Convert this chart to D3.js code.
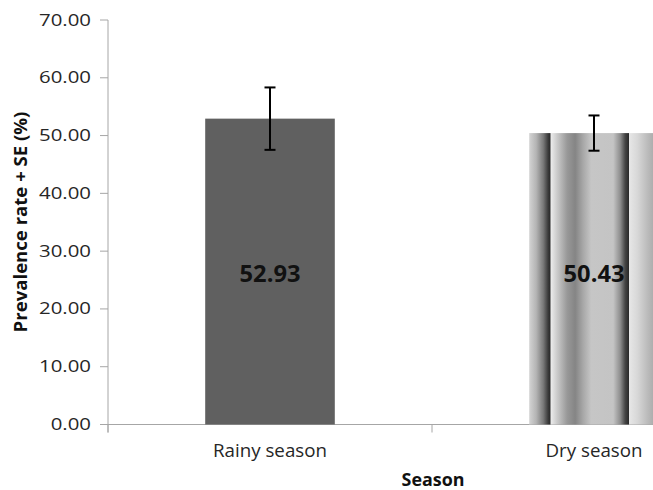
<!DOCTYPE html>
<html>
<head>
<meta charset="utf-8">
<script src="https://cdn.jsdelivr.net/npm/d3@7"></script>
<style>
html,body{margin:0;padding:0;background:#fff;overflow:hidden;}
svg{display:block;}
text{font-family:"Open Sans",sans-serif;fill:#222;}
</style>
</head>
<body>
<svg id="chart" width="653" height="490"></svg>
<script>
const categories = ["Rainy season", "Dry season"];
const values = [52.93, 50.43];
const errors = [5.4, 3.05];
const valueLabels = ["52.93", "50.43"];
const yTicks = [0, 10, 20, 30, 40, 50, 60, 70];
const yTitle = "Prevalence rate + SE (%)";
const xTitle = "Season";

const svg = d3.select("#chart");
const W = 653, H = 490;

const y = d3.scaleLinear().domain([0, 70]).range([424.5, 20]);
const x = d3.scaleBand().domain(categories).range([108, 756]).paddingInner(0.6).paddingOuter(0.3);
const step = x.step();
const x0 = 108;

// gradient for dry season bar
const defs = svg.append("defs");
const grad = defs.append("linearGradient").attr("id", "dryGrad")
  .attr("x1", 0).attr("x2", 1).attr("y1", 0).attr("y2", 0);
const bw = x.bandwidth();
const stops = [
  [0, "#d4d4d4"], [7, "#b4b4b4"], [14, "#7a7a7a"], [19, "#3a3a3a"], [21, "#2a2a2a"],
  [21.6, "#ececec"], [28, "#cacaca"], [38, "#989898"], [46, "#858585"], [54, "#a8a8a8"],
  [62, "#c6c6c6"], [84, "#c4c4c4"], [91, "#8e8e8e"], [96, "#444444"], [99.5, "#2a2a2a"],
  [100.2, "#e6e6e6"], [108, "#d8d8d8"], [118, "#bcbcbc"], [129.6, "#a0a0a0"]
];
stops.forEach(s => grad.append("stop").attr("offset", (s[0] / bw)).attr("stop-color", s[1]));

// helper: fit text horizontally
function fit(sel, target) {
  sel.each(function () {
    const t = d3.select(this);
    const w = this.getComputedTextLength();
    const tx = +t.attr("data-x"), ty = +t.attr("data-y");
    const rot = t.attr("data-rot") || 0;
    const s = target / w;
    t.attr("x", 0).attr("y", 0)
     .attr("transform", `translate(${tx},${ty}) rotate(${rot}) scale(${s},1)`);
  });
}

// axes lines
const axisColor = "#a6a6a6";
svg.append("line").attr("x1", x0).attr("x2", x0).attr("y1", y(70)).attr("y2", y(0) + 8)
  .attr("stroke", axisColor).attr("stroke-width", 1);
svg.append("line").attr("x1", x0).attr("x2", W + 5).attr("y1", y(0)).attr("y2", y(0))
  .attr("stroke", axisColor).attr("stroke-width", 1);

// y ticks
yTicks.forEach(v => {
  svg.append("line").attr("x1", x0 - 8).attr("x2", x0).attr("y1", y(v)).attr("y2", y(v))
    .attr("stroke", axisColor).attr("stroke-width", 1);
});
const tl = svg.selectAll(".ytl").data(yTicks).enter().append("text")
  .attr("class", "ytl")
  .attr("text-anchor", "end")
  .style("font-size", "15.5px").style("fill", "#262626")
  .text(d => d.toFixed(2));
let tickScale = 1.2;
tl.each(function (d) { if (d === 70) tickScale = 52 / this.getComputedTextLength(); });
tl.attr("x", 0).attr("y", 0)
  .attr("transform", d => `translate(91,${y(d) + 5.5}) scale(${tickScale},1)`);

// x category boundary ticks
[0, 1, 2].forEach(i => {
  const xx = x0 + i * step;
  svg.append("line").attr("x1", xx).attr("x2", xx).attr("y1", y(0)).attr("y2", y(0) + 8)
    .attr("stroke", axisColor).attr("stroke-width", 1);
});

// bars
svg.selectAll(".bar").data(categories).enter().append("rect")
  .attr("class", "bar")
  .attr("x", d => x(d))
  .attr("width", bw)
  .attr("y", (d, i) => y(values[i]))
  .attr("height", (d, i) => y(0) - y(values[i]))
  .attr("fill", (d, i) => i === 0 ? "#606060" : "url(#dryGrad)");

// error bars
categories.forEach((c, i) => {
  const cx = x(c) + bw / 2;
  const top = y(values[i] + errors[i]);
  const bot = y(values[i] - errors[i]);
  const g = svg.append("g").attr("stroke", "#000").attr("stroke-width", 2);
  g.append("line").attr("x1", cx).attr("x2", cx).attr("y1", top).attr("y2", bot);
  g.append("line").attr("x1", cx - 5.5).attr("x2", cx + 5.5).attr("y1", top).attr("y2", top);
  g.append("line").attr("x1", cx - 5.5).attr("x2", cx + 5.5).attr("y1", bot).attr("y2", bot);
});

// value labels
svg.selectAll(".vl").data(categories).enter().append("text")
  .attr("class", "vl")
  .attr("data-x", d => x(d) + bw / 2).attr("data-y", 282)
  .attr("text-anchor", "middle")
  .style("font-size", "23px").style("font-weight", "bold").style("fill", "#111")
  .text((d, i) => valueLabels[i])
  .call(fit, 61);

// category labels
const catW = [114, 97];
svg.selectAll(".cl").data(categories).enter().append("text")
  .attr("class", "cl")
  .attr("data-x", d => x(d) + bw / 2).attr("data-y", 457)
  .attr("text-anchor", "middle")
  .style("font-size", "17.5px").style("fill", "#262626")
  .text(d => d)
  .each(function (d, i) { fit(d3.select(this), catW[i]); });

// x title
svg.append("text")
  .attr("data-x", 433).attr("data-y", 486)
  .attr("text-anchor", "middle")
  .style("font-size", "17.5px").style("font-weight", "bold").style("fill", "#111")
  .text(xTitle)
  .call(fit, 63);

// y title
svg.append("text")
  .attr("data-x", 27).attr("data-y", 222).attr("data-rot", -90)
  .attr("text-anchor", "middle")
  .style("font-size", "17px").style("font-weight", "bold").style("fill", "#111")
  .text(yTitle)
  .call(fit, 221);
</script>
</body>
</html>
